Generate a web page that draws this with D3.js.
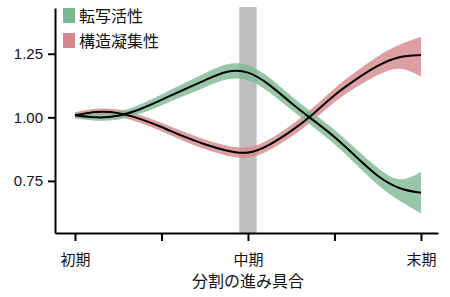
<!DOCTYPE html>
<html>
<head>
<meta charset="utf-8">
<script src="https://cdn.jsdelivr.net/npm/d3@7"></script>
<style>
  body { margin: 0; background: #fff; }
  svg text { font-family: "Liberation Sans", "Noto Sans CJK JP", sans-serif; }
</style>
</head>
<body>
<svg id="canvas" width="450" height="297"></svg>
<script>
// stage of division (0 = early, 2 = middle, 4 = late)
let stages = [0, 0.25, 0.5, 0.75, 1, 1.25, 1.5, 1.75, 2, 2.25, 2.5, 2.75, 3, 3.25, 3.5, 3.75, 4]

// transcription activity
let greenMean = [1.008, 0.997, 1.003, 1.03, 1.068, 1.108, 1.145, 1.185, 1.185, 1.13, 1.055, 0.99, 0.925, 0.845, 0.765, 0.716, 0.703]
let greenLow  = [0.996, 0.984, 0.988, 1.012, 1.046, 1.083, 1.117, 1.155, 1.155, 1.101, 1.028, 0.963, 0.897, 0.815, 0.731, 0.671, 0.622]
let greenHigh = [1.020, 1.010, 1.018, 1.048, 1.090, 1.133, 1.173, 1.215, 1.215, 1.159, 1.082, 1.017, 0.953, 0.875, 0.799, 0.738, 0.786]

// chromatin condensation
let redMean = [1.008, 1.024, 1.02, 0.995, 0.963, 0.925, 0.893, 0.868, 0.853, 0.89, 0.945, 1.01, 1.09, 1.15, 1.205, 1.242, 1.245]
let redLow  = [0.996, 1.011, 1.006, 0.980, 0.946, 0.907, 0.874, 0.848, 0.833, 0.869, 0.922, 0.985, 1.063, 1.120, 1.168, 1.205, 1.160]
let redHigh = [1.020, 1.037, 1.034, 1.010, 0.980, 0.943, 0.912, 0.888, 0.873, 0.911, 0.968, 1.035, 1.117, 1.180, 1.242, 1.288, 1.317]

let xTicks = [0, 1, 2, 3, 4]
let xLabels = ['初期', '', '中期', '', '末期']
let yTicks = [0.75, 1.00, 1.25]
let legendNames = ['転写活性', '構造凝集性']
let highlightStage = 2
let highlightHalf = 0.1

let green = '#7db893'
let red = '#d4878b'

let canvas = d3.select('#canvas')

let x = d3.scaleLinear().domain([-0.231, 4.197]).range([55, 438])
let y = d3.scaleLinear().domain([0.545, 1.43]).range([233, 8])

// highlighted middle stage
canvas.append('rect')
    .attr('x', x(highlightStage - highlightHalf))
    .attr('width', x(highlightStage + highlightHalf) - x(highlightStage - highlightHalf))
    .attr('y', y(1.43) - 1)
    .attr('height', y(0.545) - y(1.43) + 1)
    .attr('fill', '#a8a8a8')
    .attr('opacity', 0.75)

let drawSeries = (mean, low, high, color) => {
    let pts = stages.map((s, i) => ({s: s, m: mean[i], lo: low[i], hi: high[i]}))
    let area = d3.area()
        .x(d => x(d.s))
        .y0(d => y(d.lo))
        .y1(d => y(d.hi))
        .curve(d3.curveBasis)
    let line = d3.line()
        .x(d => x(d.s))
        .y(d => y(d.m))
        .curve(d3.curveBasis)
    canvas.append('path')
        .attr('d', area(pts))
        .attr('fill', color)
        .attr('opacity', 0.8)
    return () => {
        canvas.append('path')
            .attr('d', line(pts))
            .attr('fill', 'none')
            .attr('stroke', '#000')
            .attr('stroke-width', 2)
    }
}

let lineR = drawSeries(redMean, redLow, redHigh, red)
let lineG = drawSeries(greenMean, greenLow, greenHigh, green)
lineR()
lineG()

// axes
let xAxis = d3.axisBottom(x)
    .tickValues(xTicks)
    .tickFormat((d, i) => xLabels[i])
    .tickSizeInner(8)
    .tickSizeOuter(0)
    .tickPadding(13)

canvas.append('g')
    .attr('transform', 'translate(0,233)')
    .call(xAxis)

let yAxis = d3.axisLeft(y)
    .tickValues(yTicks)
    .tickFormat(d3.format('.2f'))
    .tickSizeInner(7)
    .tickSizeOuter(0)
    .tickPadding(5)

canvas.append('g')
    .attr('transform', 'translate(55,0)')
    .call(yAxis)

canvas.selectAll('.domain, .tick line')
    .attr('stroke', '#000')
    .attr('stroke-width', 2)
canvas.selectAll('.tick text')
    .attr('fill', '#111')
    .style('font-size', '15px')

canvas.append('text')
    .attr('x', x(2))
    .attr('y', 287)
    .attr('text-anchor', 'middle')
    .style('font-size', '16px')
    .attr('fill', '#111')
    .text('分割の進み具合')

// legend
let legendColors = [green, red]
legendNames.forEach((name, i) => {
    canvas.append('rect')
        .attr('x', 63)
        .attr('y', 8 + i * 25)
        .attr('width', 12)
        .attr('height', 15)
        .attr('fill', legendColors[i])
    canvas.append('text')
        .attr('x', 79)
        .attr('y', 22 + i * 25)
        .style('font-size', '16px')
        .attr('fill', '#111')
        .text(name)
})
</script>
</body>
</html>
